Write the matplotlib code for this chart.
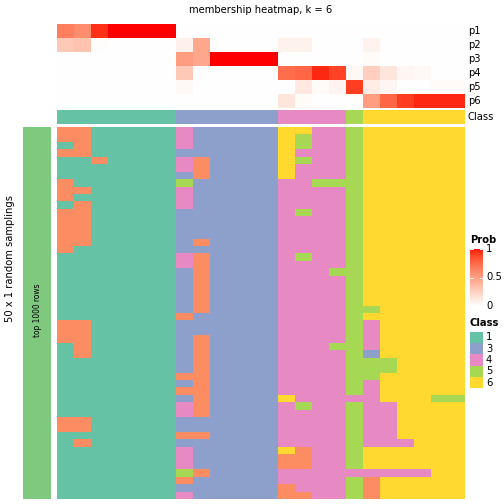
import numpy as np
import matplotlib
matplotlib.use("Agg")
import matplotlib.pyplot as plt
from matplotlib.colors import ListedColormap, BoundaryNorm

# ---------------- data ----------------
title = "membership heatmap, k = 6"
prob_labels = ["p1", "p2", "p3", "p4", "p5", "p6"]
p1 = [0.65, 0.58, 0.93, 1, 1, 1, 1, 0, 0, 0, 0, 0, 0, 0, 0, 0, 0, 0, 0, 0, 0, 0, 0, 0]
p2 = [0.28, 0.32, 0.01, 0, 0, 0, 0, 0.08, 0.45, 0, 0, 0, 0, 0.07, 0.07, 0, 0, 0, 0.06, 0, 0, 0, 0, 0]
p3 = [0, 0, 0, 0, 0, 0, 0, 0.5, 0.45, 1, 1, 1, 1, 0, 0, 0, 0, 0, 0.02, 0, 0, 0, 0, 0]
p4 = [0, 0, 0, 0, 0, 0, 0, 0.28, 0, 0, 0, 0, 0, 0.72, 0.75, 0.95, 0.88, 0.04, 0.25, 0.13, 0.05, 0.03, 0, 0]
p5 = [0, 0, 0, 0, 0, 0, 0, 0.03, 0, 0, 0, 0, 0, 0, 0.12, 0.02, 0.06, 0.9, 0.1, 0.05, 0, 0, 0.02, 0.02]
p6 = [0, 0, 0, 0, 0, 0, 0, 0, 0, 0, 0, 0, 0, 0.13, 0.02, 0, 0, 0, 0.5, 0.75, 0.9, 0.95, 0.95, 0.95]
column_class = [1, 1, 1, 1, 1, 1, 1, 3, 3, 3, 3, 3, 3, 4, 4, 4, 4, 5, 6, 6, 6, 6, 6, 6]

# class assigned to each column (24) in each of the 50 random samplings
# groups: 7 cols of class 1 | 6 cols of class 3 | 4 cols of class 4 | 1 col class 5 | 6 cols class 6
sampling_classes = [
    "2211111 433333 6644 5 666666",
    "2211111 433333 6544 5 666666",
    "1211111 433333 6544 5 666666",
    "2211111 333333 6444 5 666666",
    "1121111 423333 6544 5 666666",
    "1111111 423333 6444 5 666666",
    "1111111 323333 6444 5 666666",
    "2111111 533333 4455 5 666666",
    "2211111 433333 4444 5 666666",
    "2111111 433333 4444 5 666666",
    "1211111 433333 4444 5 666666",
    "2211111 333333 4544 5 666666",
    "2211111 333333 4444 5 666666",
    "2211111 333333 4444 5 666666",
    "2211111 333333 4444 5 666666",
    "2211111 323333 4444 5 666666",
    "2111111 333333 4444 5 666666",
    "1111111 423333 4544 5 666666",
    "1111111 423333 4444 5 666666",
    "1111111 323333 4445 5 666666",
    "1111111 323333 4444 5 666666",
    "1111111 323333 4444 5 666666",
    "1111111 323333 4444 5 666666",
    "1111111 323333 4444 5 666666",
    "1111111 323333 4444 5 566666",
    "1111111 233333 4444 5 666666",
    "2211111 333333 4444 5 466666",
    "2211111 333333 4444 5 466666",
    "2211111 323333 4444 5 466666",
    "1211111 323333 4445 5 466666",
    "1211111 323333 4444 5 366666",
    "1111111 323333 4444 5 556666",
    "1111111 323333 4444 5 556666",
    "1111111 223333 4444 5 566666",
    "1111111 323333 4444 5 466666",
    "1111111 223333 4444 5 466666",
    "1111111 323333 6444 4 466655",
    "1111111 423333 4544 5 446666",
    "1111111 423333 4444 5 446666",
    "2211111 333333 4444 5 446666",
    "2211111 333333 4444 5 446666",
    "1111111 223333 4444 5 446666",
    "1211111 333333 4444 5 444666",
    "1111111 433333 6244 5 666666",
    "1111111 433333 2244 5 666666",
    "1111111 433333 2244 5 666666",
    "1111111 523333 4444 4 444466",
    "1111111 233333 4444 5 266666",
    "1111111 333333 2444 5 266666",
    "1111111 433333 2244 5 266666",
]
legend_classes = [1, 3, 4, 5, 6]
sampling_label = "50 x 1 random samplings"
slice_label = "top 1000 rows"

# ---------------- styles ----------------
class_colors = {1: "#66C2A5", 2: "#FC8D62", 3: "#8DA0CB", 4: "#E78AC3", 5: "#A6D854", 6: "#FFD92F"}
annot_green = "#7FC97F"


def lab_to_srgb(L, a, b):
    fy_ = (L + 16) / 116.0
    fx_ = fy_ + a / 500.0
    fz_ = fy_ - b / 200.0

    def finv(t):
        return np.where(t ** 3 > 0.008856, t ** 3, (t - 16 / 116.0) / 7.787)

    X = 0.95047 * finv(fx_)
    Y = 1.0 * finv(fy_)
    Z = 1.08883 * finv(fz_)
    r = 3.2406 * X - 1.5372 * Y - 0.4986 * Z
    g = -0.9689 * X + 1.8758 * Y + 0.0415 * Z
    bb = 0.0557 * X - 0.2040 * Y + 1.0570 * Z
    rgb = np.stack([r, g, bb], axis=-1)
    rgb = np.clip(rgb, 0, 1)
    rgb = np.where(rgb <= 0.0031308, 12.92 * rgb, 1.055 * rgb ** (1 / 2.4) - 0.055)
    return np.clip(rgb, 0, 1)


t = np.linspace(0, 1, 256)
white_lab = np.array([100.0, 0.0, 0.0])
red_lab = np.array([53.24, 80.09, 67.20])
labs = white_lab[None, :] * (1 - t[:, None]) + red_lab[None, :] * t[:, None]
prob_cmap = ListedColormap(lab_to_srgb(labs[:, 0], labs[:, 1], labs[:, 2]))

W = H = 504
plt.rcParams["font.family"] = ["DejaVu Sans"]
fig = plt.figure(figsize=(7, 7), dpi=72)


def px_axes(x0, y0, x1, y1):
    ax = fig.add_axes([x0 / W, 1 - y1 / H, (x1 - x0) / W, (y1 - y0) / H])
    ax.set_axis_off()
    return ax


def fy(y):
    return 1 - y / H


def fx(x):
    return x / W


X0, X1 = 57, 465

# top probability heatmap
prob = np.array([p1, p2, p3, p4, p5, p6], dtype=float)
ax_p = px_axes(X0, 24, X1, 108)
ax_p.imshow(prob, cmap=prob_cmap, vmin=0, vmax=1, aspect="auto", interpolation="nearest")
for i, lab in enumerate(prob_labels):
    fig.text(fx(468), fy(24 + 14 * i + 7), lab, fontsize=10, va="center", ha="left")

# class bar
keys = [1, 2, 3, 4, 5, 6]
class_cmap = ListedColormap([class_colors[k] for k in keys])
class_norm = BoundaryNorm(np.arange(0.5, 7.5, 1), class_cmap.N)
ax_c = px_axes(X0, 110, X1, 124)
ax_c.imshow(np.array([column_class]), cmap=class_cmap, norm=class_norm, aspect="auto",
            interpolation="nearest")
fig.text(fx(468), fy(117), "Class", fontsize=10, va="center", ha="left")

# bottom sampling heatmap
mat = np.array([[int(ch) for ch in row.replace(" ", "")] for row in sampling_classes])
ax_b = px_axes(X0, 127, X1, 499)
ax_b.imshow(mat, cmap=class_cmap, norm=class_norm, aspect="auto", interpolation="nearest")

# left annotation bar (row slice title)
ax_l = px_axes(23, 127, 51, 499)
ax_l.add_patch(plt.Rectangle((0, 0), 1, 1, color=annot_green, transform=ax_l.transAxes))
fig.text(fx(37), fy(310), slice_label, rotation=90, fontsize=7.5, ha="center", va="center")
fig.text(fx(10), fy(258), sampling_label, rotation=90, fontsize=10, ha="center", va="center")

# title
fig.text(fx(261), fy(10), title, fontsize=10, ha="center", va="center")

# Prob legend
fig.text(fx(470), fy(240), "Prob", fontsize=10, fontweight="bold", ha="left", va="center")
ax_cb = px_axes(470, 249, 483, 306)
grad = np.linspace(1, 0, 200)[:, None]
ax_cb.imshow(grad, cmap=prob_cmap, vmin=0, vmax=1, aspect="auto", extent=[0, 1, 0, 1])
ax_cb.set_xlim(0, 1)
ax_cb.set_ylim(0, 1)
for v in [0, 0.5, 1]:
    ax_cb.plot([0, 0.2], [v, v], color="white", lw=1)
    ax_cb.plot([0.8, 1], [v, v], color="white", lw=1)
    fig.text(fx(486), fy(306 - 57 * v), ("%g" % v), fontsize=10, ha="left", va="center")

# Class legend
fig.text(fx(470), fy(323), "Class", fontsize=10, fontweight="bold", ha="left", va="center")
step = 11.34
for i, k in enumerate(legend_classes):
    y0 = 331.5 + step * i
    axk = px_axes(470, y0, 483, y0 + step)
    axk.add_patch(plt.Rectangle((0, 0), 1, 1, color=class_colors[k], transform=axk.transAxes))
    fig.text(fx(486), fy(y0 + step / 2), str(k), fontsize=10, ha="left", va="center")

fig.savefig("out.png", dpi=72)
